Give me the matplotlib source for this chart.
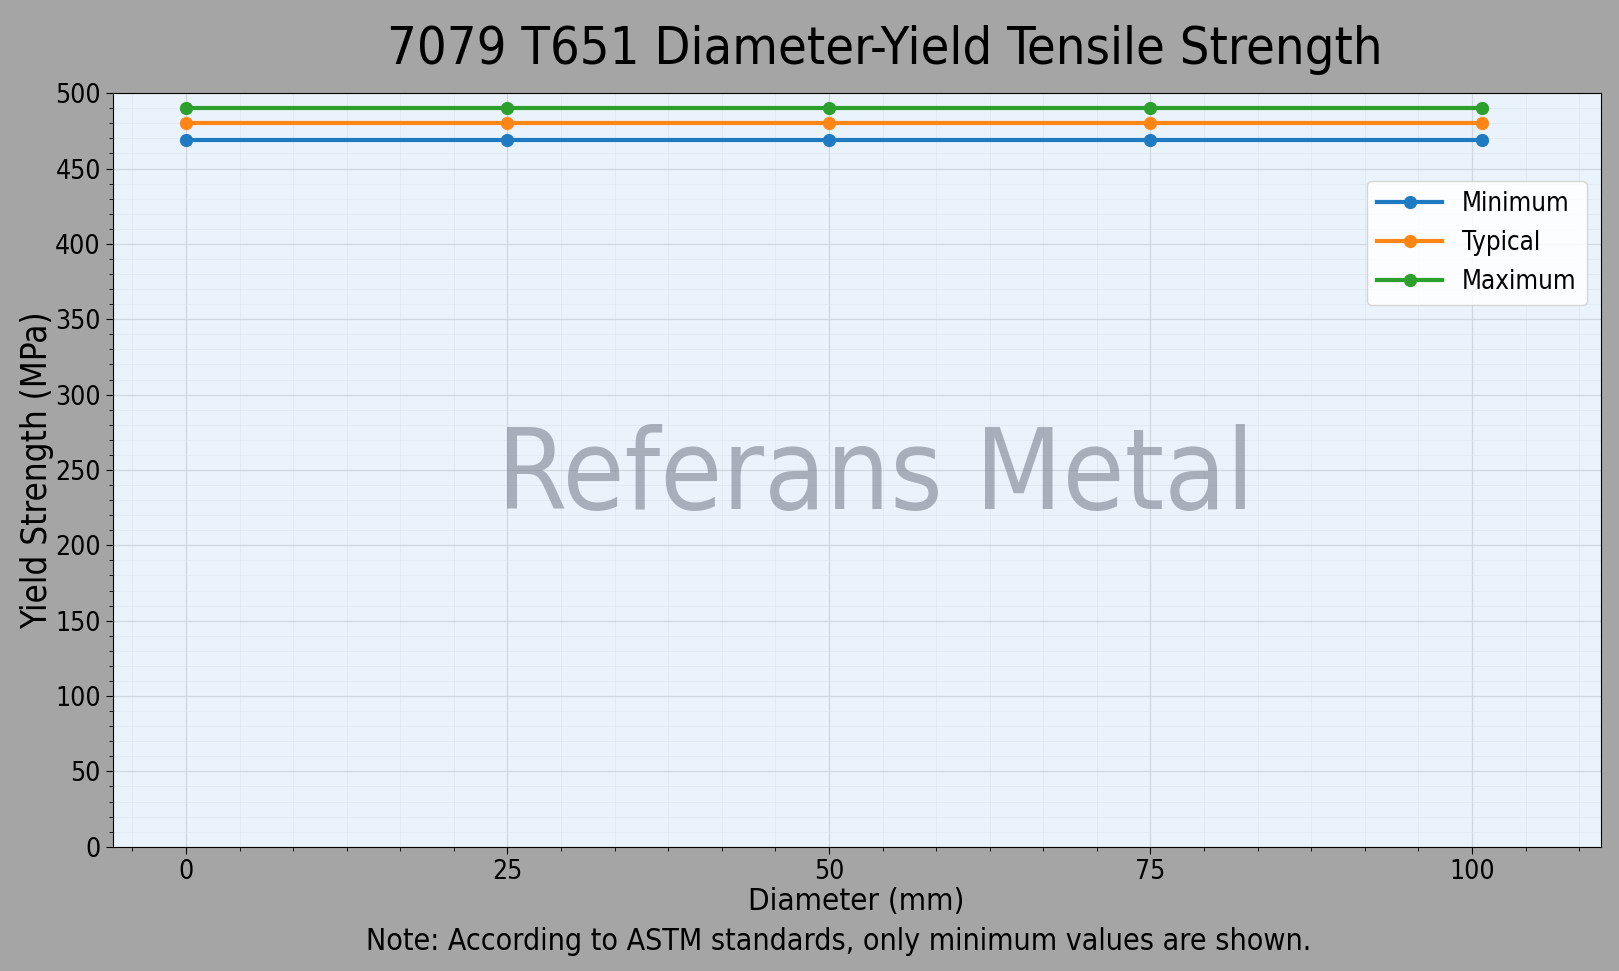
import matplotlib
matplotlib.use("Agg")
import matplotlib.pyplot as plt
from matplotlib.ticker import MultipleLocator, AutoMinorLocator

plt.rcParams['font.family'] = ['DejaVu Sans']
plt.rcParams['font.stretch'] = 'condensed'

# data
diameters = [0, 25, 50, 75, 100.8]
minimum = [469, 469, 469, 469, 469]
typical = [480, 480, 480, 480, 480]
maximum = [490, 490, 490, 490, 490]
series_names = ["Minimum", "Typical", "Maximum"]
colors = ["#1f7bc1", "#ff8614", "#2ca02c"]

fig = plt.figure(figsize=(16.19, 9.71), dpi=100, facecolor="#a5a5a5")
ax = fig.add_axes([0.0696, 0.128, 0.919, 0.776])
ax.set_facecolor("#eaf3fb")

for vals, name, c in zip([minimum, typical, maximum], series_names, colors):
    ax.plot(diameters, vals, marker="o", lw=3, ms=8.5, color=c, label=name, zorder=3)

ax.set_xlim(-5.7, 110)
ax.set_ylim(0, 500)
ax.xaxis.set_major_locator(MultipleLocator(25))
ax.xaxis.set_minor_locator(AutoMinorLocator(6))
ax.yaxis.set_major_locator(MultipleLocator(50))
ax.yaxis.set_minor_locator(MultipleLocator(10))
ax.tick_params(axis="both", which="major", labelsize=19, length=5)
ax.tick_params(axis="both", which="minor", length=3)
ax.grid(which="major", color="#c9d0d8", lw=0.9, alpha=0.8)
ax.grid(which="minor", color="#d8e2ec", lw=0.6, alpha=0.6)
ax.set_axisbelow(True)

ax.set_xlabel("Diameter (mm)", fontsize=22.5, labelpad=2)
ax.set_ylabel("Yield Strength (MPa)", fontsize=25, labelpad=1)

# watermark
ax.text(0.513, 0.489, "Referans Metal", transform=ax.transAxes, fontsize=81,
        color="#707a86", alpha=0.55, ha="center", va="center", zorder=2)

leg = ax.legend(loc="upper right", bbox_to_anchor=(0.991, 0.884), borderaxespad=0,
                fontsize=18.5, handlelength=2.5, framealpha=0.85, edgecolor="#d0d0d0")

fig.text(0.5466, 1 - 64 / 971, "7079 T651 Diameter-Yield Tensile Strength",
         fontsize=37.5, ha="center", va="baseline")
fig.text(0.5178, 1 - 950 / 971, "Note: According to ASTM standards, only minimum values are shown.",
         fontsize=21.7, ha="center", va="baseline")

fig.savefig("out.png", dpi=100, facecolor=fig.get_facecolor())
